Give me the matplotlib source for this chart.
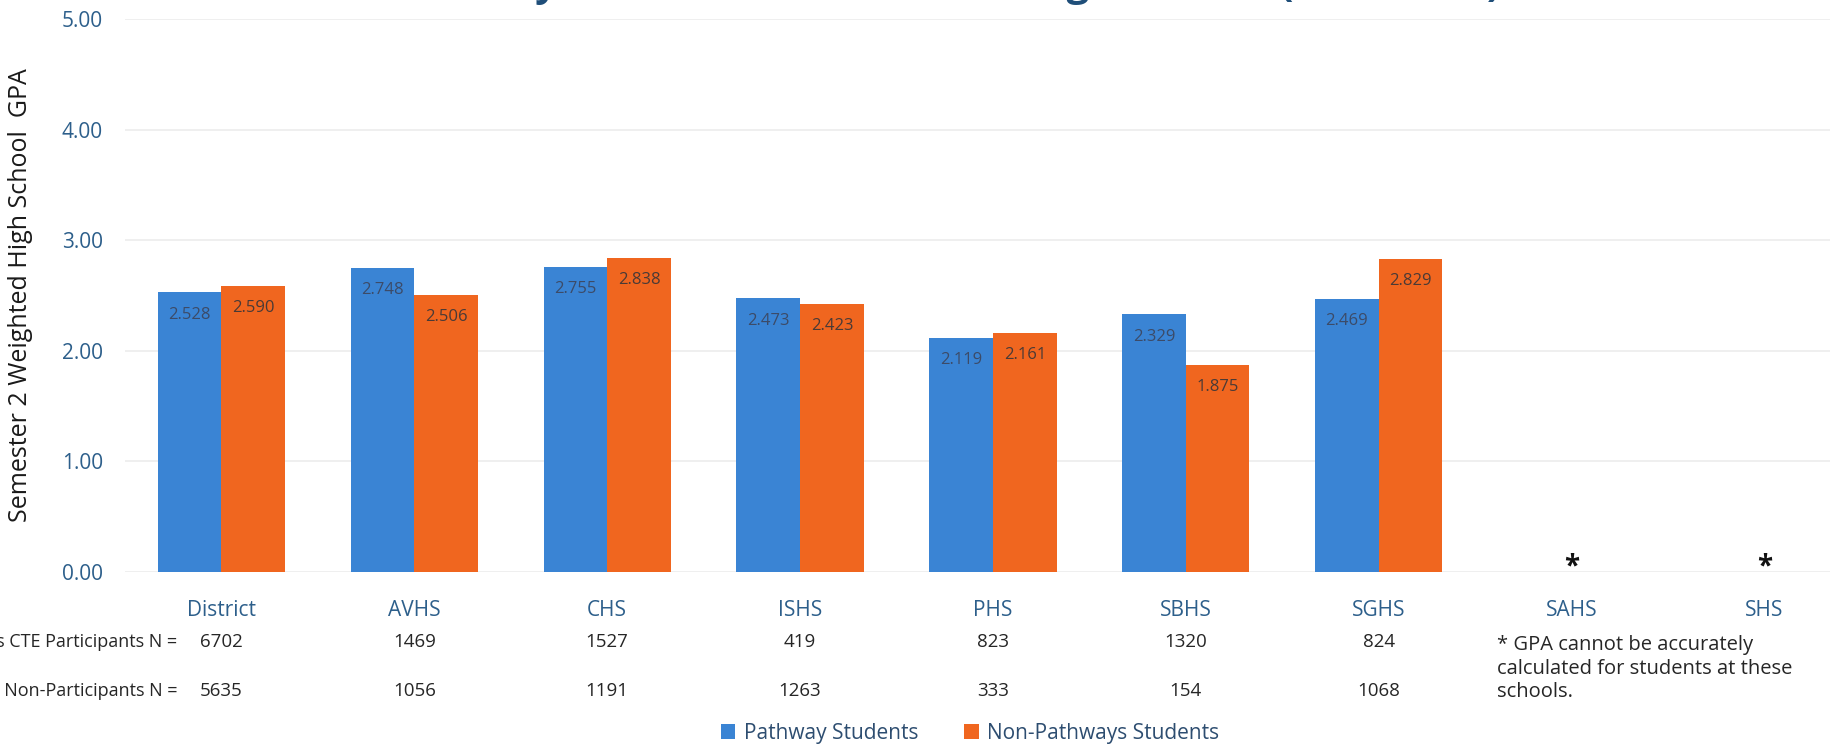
import numpy as np
import matplotlib.pyplot as plt
import matplotlib.transforms as mtransforms

plt.rcParams['font.family'] = ['Open Sans', 'DejaVu Sans']

#=========================
# Datos del grafico.
#=========================

escuelas = ['District', 'AVHS', 'CHS', 'ISHS', 'PHS', 'SBHS', 'SGHS', 'SAHS', 'SHS']
gpa_pathway = [2.528, 2.748, 2.755, 2.473, 2.119, 2.329, 2.469, np.nan, np.nan]
gpa_no_pathway = [2.590, 2.506, 2.838, 2.423, 2.161, 1.875, 2.829, np.nan, np.nan]
n_cte = ['6702', '1469', '1527', '419', '823', '1320', '824', '', '']
n_no_cte = ['5635', '1056', '1191', '1263', '333', '154', '1068', '', '']
sin_dato = ['SAHS', 'SHS']  # Escuelas marcadas con asterisco.
ticks_y = [0, 1, 2, 3, 4, 5]

titulo = 'CTE Pathway Status on Semester 2 Weighted GPA (2016-2017)'
etiqueta_y = 'Semester 2 Weighted High School  GPA'
nota = ['* GPA cannot be accurately', 'calculated for students at these', 'schools.']

AZUL = '#3a84d4'
NARANJA = '#f0661f'
AZUL_TEXTO = '#2d5f8b'

#=========================
# Figura y ejes.
#=========================

W, H = 1830, 747
fig = plt.figure(figsize=(W/100, H/100), dpi=100)
ax = fig.add_axes([125/W, 175/H, 1705/W, 553/H])

x = np.arange(len(escuelas))
ancho = 0.33

barras_1 = ax.bar(x - ancho/2, gpa_pathway, ancho, color=AZUL, label='Pathway Students', zorder=3)
barras_2 = ax.bar(x + ancho/2, gpa_no_pathway, ancho, color=NARANJA, label='Non-Pathways Students', zorder=3)

# Valores dentro de las barras.
for i in range(len(escuelas)):
    if not np.isnan(gpa_pathway[i]):
        ax.text(x[i] - ancho/2, gpa_pathway[i] - 0.2, '%.3f' % gpa_pathway[i], ha='center', va='center',
                fontsize=12, color='#3c4b68', zorder=4)
    if not np.isnan(gpa_no_pathway[i]):
        ax.text(x[i] + ancho/2, gpa_no_pathway[i] - 0.2, '%.3f' % gpa_no_pathway[i], ha='center', va='center',
                fontsize=12, color='#4a3a36', zorder=4)

# Asteriscos para las escuelas sin dato.
for e in sin_dato:
    i = escuelas.index(e)
    ax.text(x[i], 0.05, '*', ha='center', va='center', fontsize=20, fontweight='bold', color='#111111')

ax.set_xlim(-0.5, 8.34)
ax.set_ylim(0, 5)
ax.set_yticks(ticks_y)
ax.set_yticklabels(['%.2f' % v for v in ticks_y], fontsize=15, color=AZUL_TEXTO)
ax.set_xticks(x)
ax.set_xticklabels(escuelas, fontsize=15, color=AZUL_TEXTO)
ax.tick_params(axis='both', length=0)
ax.tick_params(axis='y', pad=16)
ax.tick_params(axis='x', pad=20)
ax.grid(True, axis='y', color='#ececec', linewidth=1.2, zorder=0)
for lado in ax.spines.values():
    lado.set_visible(False)

#=========================
# Textos de la figura.
#=========================

# El titulo queda casi fuera de la figura, como en el original recortado.
fig.text(1500/W, 1 + 4/H, titulo, ha='right', va='baseline', fontsize=28.5, fontweight='bold', color='#1f4e79')
fig.text(21/W, (H - 295)/H, etiqueta_y, rotation=90, ha='center', va='center', fontsize=18, color='#1a1a1a')

# Filas con los N.
trans = mtransforms.blended_transform_factory(ax.transData, fig.transFigure)
y_cte = (H - 642)/H
y_no = (H - 691)/H
fig.text(177/W, y_cte, 'Pathways CTE Participants N =', ha='right', va='center', fontsize=13, color='#262626')
fig.text(178/W, y_no, 'Pathways Non-Participants N =', ha='right', va='center', fontsize=13, color='#262626')
for i in range(len(escuelas)):
    ax.text(x[i], y_cte, n_cte[i], transform=trans, ha='center', va='center', fontsize=13.5, color='#262626')
    ax.text(x[i], y_no, n_no_cte[i], transform=trans, ha='center', va='center', fontsize=13.5, color='#262626')

# Nota al pie.
for k, linea in enumerate(nota):
    fig.text(1497/W, (H - 645 - 23.5*k)/H, linea, ha='left', va='center', fontsize=14.5, color='#262626')

# Leyenda.
fig.legend(handles=[barras_1, barras_2], loc='center', bbox_to_anchor=(970/W, (H - 733)/H), ncol=2,
           frameon=False, fontsize=15, labelcolor='#2d4d70', handlelength=0.7, handleheight=0.7,
           handletextpad=0.4, columnspacing=2.2)

plt.savefig('out.png', dpi=100)
